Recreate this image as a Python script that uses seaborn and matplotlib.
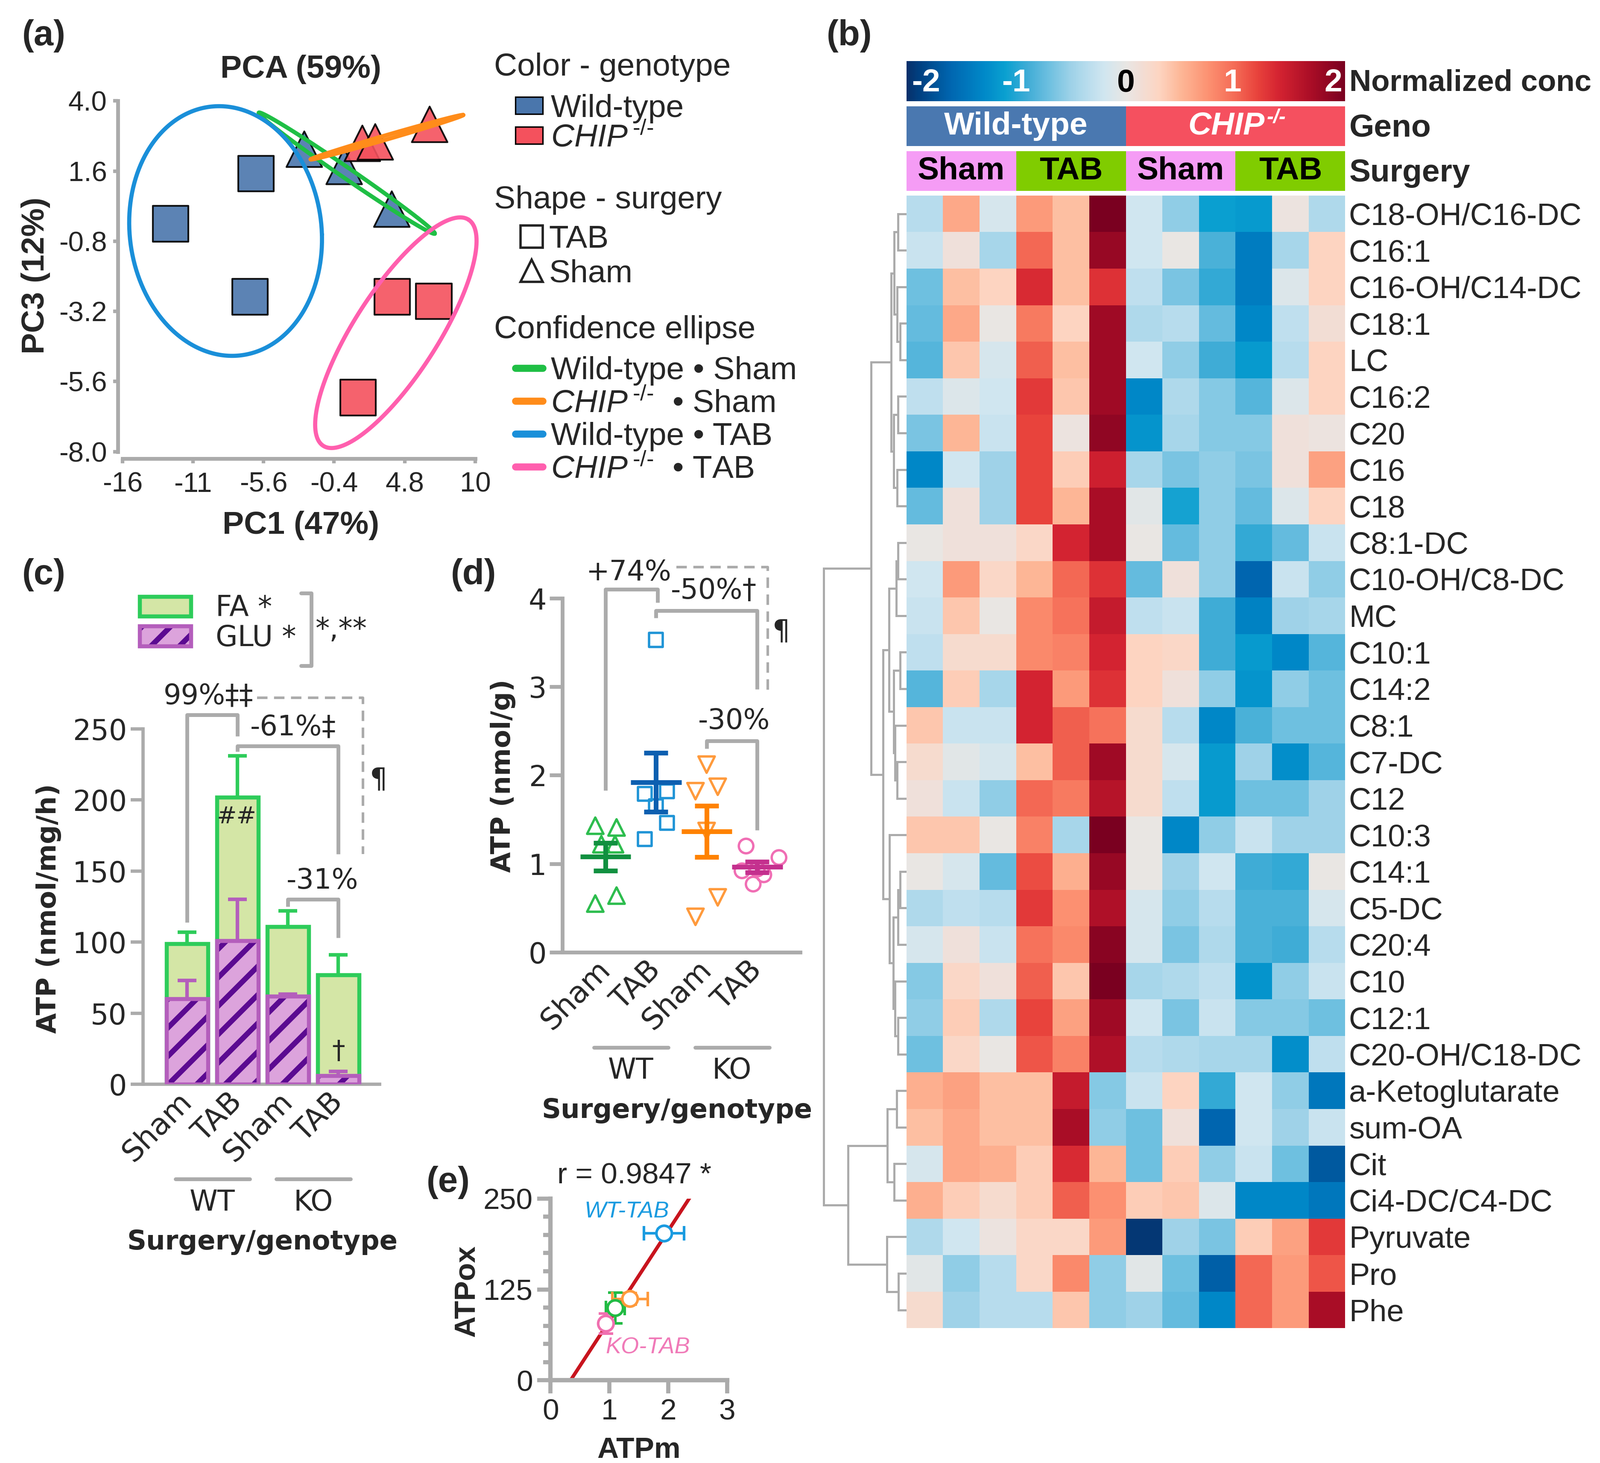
import matplotlib
matplotlib.use("Agg")
import matplotlib.pyplot as plt
import matplotlib.transforms as mtrans
import seaborn as sns
import numpy as np
import pandas as pd
from matplotlib.colors import LinearSegmentedColormap, ListedColormap
from matplotlib.patches import Patch
from matplotlib.lines import Line2D
from matplotlib.legend_handler import HandlerTuple
from matplotlib.ticker import MultipleLocator

# ---------------- (a) PCA scores ----------------
pca_pc1 = [-12.45, -6.15, -6.61, 3.89, 6.95, 1.37, -2.6, 0.34, 3.85, 1.68, 2.63, 6.64]
pca_pc3 = [-0.2, 1.52, -2.7, -2.7, -2.85, -6.15, 2.35, 1.76, 0.3, 2.55, 2.6, 3.2]
pca_geno = ["Wild-type"] * 3 + ["CHIP"] * 3 + ["Wild-type"] * 3 + ["CHIP"] * 3
pca_surgery = ["TAB"] * 6 + ["Sham"] * 6
pc1_ticks = [-16, -10.8, -5.6, -0.4, 4.8, 10]
pc1_labels = ["-16", "-11", "-5.6", "-0.4", "4.8", "10"]
pc3_ticks = [4.0, 1.6, -0.8, -3.2, -5.6, -8.0]

# confidence ellipses: centre + two conjugate semi-diameters (PC units)
ell_groups = ["WT Sham", "CHIP Sham", "WT TAB", "CHIP TAB"]
ell_cx = [0.53, 3.49, -8.4, 4.15]
ell_cy = [1.53, 2.76, -0.45, -3.93]
ell_ux = [6.49, 5.63, 7.1, 5.35]
ell_uy = [-2.07, 0.76, -0.12, 3.87]
ell_vx = [0.22, 0.04, -0.28, 2.6]
ell_vy = [0.15, -0.07, 4.27, -0.77]
ell_colors = ["#1fbf45", "#ff8c1a", "#1a8fd9", "#ff5fae"]

# ---------------- (b) heatmap ----------------
heat_rows = ["C18-OH/C16-DC", "C16:1", "C16-OH/C14-DC", "C18:1", "LC", "C16:2", "C20",
             "C16", "C18", "C8:1-DC", "C10-OH/C8-DC", "MC", "C10:1", "C14:2", "C8:1",
             "C7-DC", "C12", "C10:3", "C14:1", "C5-DC", "C20:4", "C10", "C12:1",
             "C20-OH/C18-DC", "a-Ketoglutarate", "sum-OA", "Cit", "Ci4-DC/C4-DC",
             "Pyruvate", "Pro", "Phe"]
heat_values = [
    [-0.35, 0.6, -0.15, 0.7, 0.45, 2.0, -0.2, -0.55, -1.1, -1.15, 0.05, -0.4],
    [-0.25, 0.1, -0.45, 1.0, 0.45, 1.8, -0.2, 0.0, -0.85, -1.4, -0.45, 0.3],
    [-0.7, 0.45, 0.3, 1.35, 0.45, 1.3, -0.3, -0.65, -0.95, -1.4, -0.1, 0.3],
    [-0.75, 0.6, 0.0, 0.9, 0.3, 1.75, -0.4, -0.35, -0.75, -1.3, -0.3, 0.15],
    [-0.8, 0.4, -0.15, 1.05, 0.45, 1.75, -0.2, -0.55, -0.9, -1.15, -0.35, 0.3],
    [-0.3, -0.1, -0.2, 1.25, 0.4, 1.75, -1.3, -0.4, -0.6, -0.8, -0.1, 0.3],
    [-0.65, 0.5, -0.25, 1.2, 0.05, 1.85, -1.2, -0.45, -0.6, -0.6, 0.1, 0.05],
    [-1.3, -0.2, -0.5, 1.2, 0.35, 1.45, -0.45, -0.65, -0.55, -0.65, 0.1, 0.65],
    [-0.75, 0.1, -0.5, 1.2, 0.5, 1.7, -0.05, -1.05, -0.55, -0.75, -0.1, 0.3],
    [0.0, 0.1, 0.1, 0.25, 1.4, 1.7, 0.0, -0.75, -0.55, -0.95, -0.75, -0.25],
    [-0.2, 0.7, 0.25, 0.5, 1.0, 1.3, -0.75, 0.1, -0.55, -1.6, -0.25, -0.55],
    [-0.25, 0.4, 0.0, 0.8, 0.95, 1.5, -0.3, -0.25, -0.9, -1.35, -0.5, -0.45],
    [-0.3, 0.2, 0.2, 0.8, 0.85, 1.4, 0.3, 0.25, -0.9, -1.15, -1.3, -0.8],
    [-0.8, 0.35, -0.45, 1.4, 0.7, 1.3, 0.3, 0.1, -0.55, -1.2, -0.55, -0.7],
    [0.4, -0.25, -0.25, 1.4, 1.05, 0.95, 0.2, -0.35, -1.3, -0.85, -0.7, -0.7],
    [0.2, -0.05, -0.15, 0.45, 1.05, 1.75, 0.2, -0.15, -1.15, -0.5, -1.25, -0.8],
    [0.1, -0.25, -0.55, 1.0, 0.9, 1.6, 0.2, -0.3, -1.15, -0.7, -0.7, -0.5],
    [0.4, 0.4, 0.0, 0.85, -0.45, 2.0, 0.0, -1.3, -0.55, -0.25, -0.5, -0.5],
    [0.0, -0.15, -0.75, 1.15, 0.55, 1.8, 0.0, -0.5, -0.2, -0.9, -0.95, 0.0],
    [-0.4, -0.3, -0.35, 1.25, 0.75, 1.65, -0.15, -0.55, -0.35, -0.85, -0.85, -0.15],
    [-0.15, 0.1, -0.25, 0.95, 0.8, 1.9, -0.15, -0.65, -0.4, -0.85, -0.9, -0.35],
    [-0.6, 0.25, 0.1, 1.05, 0.4, 2.0, -0.45, -0.4, -0.3, -1.2, -0.55, -0.25],
    [-0.55, 0.35, -0.4, 1.2, 0.65, 1.75, -0.2, -0.65, -0.25, -0.6, -0.6, -0.7],
    [-0.7, 0.25, 0.0, 1.1, 0.85, 1.65, -0.35, -0.4, -0.45, -0.45, -1.25, -0.3],
    [0.55, 0.65, 0.45, 0.45, 1.5, -0.6, -0.25, 0.3, -0.95, -0.2, -0.55, -1.45],
    [0.45, 0.6, 0.45, 0.45, 1.7, -0.55, -0.7, 0.1, -1.6, -0.2, -0.5, -0.25],
    [-0.15, 0.6, 0.55, 0.35, 1.35, 0.5, -0.7, 0.35, -0.55, -0.25, -0.7, -1.7],
    [0.55, 0.35, 0.2, 0.35, 1.05, 0.75, 0.35, 0.4, -0.1, -1.3, -1.3, -1.45],
    [-0.4, -0.2, 0.05, 0.25, 0.25, 0.7, -1.95, -0.5, -0.65, 0.35, 0.65, 1.25],
    [-0.05, -0.55, -0.35, 0.25, 0.8, -0.55, -0.05, -0.7, -1.65, 1.0, 0.7, 1.1],
    [0.2, -0.5, -0.35, -0.35, 0.4, -0.55, -0.5, -0.75, -1.3, 1.0, 0.7, 1.7],
]
col_geno = [0] * 6 + [1] * 6
col_surgery = [0, 0, 0, 1, 1, 1, 0, 0, 0, 1, 1, 1]
surgery_names = ["Sham", "TAB"]

# row dendrogram as merges (child a, child b, height)
link_a = [0, 3, 2, 31, 5, 7, 35, 34, 9, 39, 12, 15, 14, 41, 40, 18, 46, 22, 21, 47, 17, 45, 38,
          24, 26, 54, 29, 28, 56, 53]
link_b = [1, 4, 32, 33, 6, 8, 36, 37, 10, 11, 13, 16, 42, 43, 44, 19, 20, 23, 48, 49, 50, 51, 52,
          25, 27, 55, 30, 57, 58, 59]
link_h = [8, 6, 9, 12, 8, 9, 12.5, 15, 8, 10, 6, 9, 11, 12.5, 17, 6, 8, 8, 11, 13, 16.5, 23, 34.5,
          9.3, 12, 18.5, 7.6, 19, 57, 81]

# ---------------- (c) ATP production ----------------
cond_keys = ["WT Sham", "WT TAB", "KO Sham", "KO TAB"]
cond_labels = ["Sham", "TAB", "Sham", "TAB"]
atp_total = [99, 202, 111, 77]
atp_total_err = [8, 29, 11, 14]
atp_glu = [60, 101, 62, 6]
atp_glu_err = [13, 29, 1.5, 3]

# ---------------- (d) ATP content ----------------
atp_wt_sham = [1.43, 1.41, 1.22, 1.22, 0.55, 0.64]
atp_wt_tab = [3.53, 1.79, 1.82, 1.65, 1.46, 1.28]
atp_ko_sham = [2.12, 1.82, 1.87, 1.37, 0.62, 0.40]
atp_ko_tab = [1.20, 1.07, 0.92, 0.77, 0.875, 0.94]
jit_wt_sham = [-0.2, 0.22, -0.08, 0.19, -0.2, 0.22]
jit_wt_tab = [0.0, -0.22, 0.22, 0.0, 0.22, -0.22]
jit_ko_sham = [0.0, -0.22, 0.22, 0.0, 0.22, -0.22]
jit_ko_tab = [-0.22, 0.43, -0.3, -0.08, 0.13, 0.0]

# ---------------- (e) correlation ----------------
atpm_mean = [1.10, 1.93, 1.35, 0.94]
atpm_sem = [0.16, 0.34, 0.30, 0.05]
atpox_mean = [99.4, 202, 112, 78]
atpox_sem = [21, 6, 8, 14]

GRAY = "#ababab"
FA_FILL, FA_EDGE = "#d4e6a6", "#2ecc5a"
GLU_FILL, GLU_EDGE, GLU_HATCH = "#dca3dc", "#b45ebc", "#5b0a91"
pt_colors = ["#2dbd4e", "#1f94d6", "#ff9a3c", "#f06eb4"]
mean_colors = ["#119040", "#0d5fb0", "#ff8200", "#c4308e"]
e_colors = ["#22bb44", "#1a9be0", "#ff9a3c", "#f070b0"]

sns.set_theme(style="white")
plt.rcParams["font.family"] = ["Liberation Sans", "DejaVu Sans"]
plt.rcParams["mathtext.fontset"] = "custom"
plt.rcParams["mathtext.rm"] = "Liberation Sans"
plt.rcParams["mathtext.it"] = "Liberation Sans:italic"
plt.rcParams["mathtext.bf"] = "Liberation Sans:bold"
plt.rcParams["hatch.linewidth"] = 4.5

# layout grid measured on the reference (1568 x 1433 units)
W, H = 1568, 1433
def fx(x): return x / W
def fy(y): return 1 - y / H
def box(x0, y0, x1, y1):
    return [fx(x0), fy(y1), fx(x1) - fx(x0), fy(y0) - fy(y1)]

def gray_spines(ax, lw):
    sns.despine(ax=ax)
    for side in ("left", "bottom"):
        ax.spines[side].set_color(GRAY)
        ax.spines[side].set_linewidth(lw)

fig = plt.figure(figsize=(18.74, 17.13), dpi=200)

# ======================= (a) =======================
axa = fig.add_axes(box(120, 98.9, 465.6, 442.4))
dfa = pd.DataFrame({"PC1": pca_pc1, "PC3": pca_pc3, "geno": pca_geno, "surgery": pca_surgery})
sns.scatterplot(data=dfa, x="PC1", y="PC3", hue="geno", style="surgery",
                palette={"Wild-type": "#4a76ac", "CHIP": "#f4515d"},
                markers={"TAB": "s", "Sham": "^"}, s=900, edgecolor="black",
                linewidth=1.5, alpha=0.9, legend=False, ax=axa, zorder=3)
t = np.linspace(0, 2 * np.pi, 300)
for cx, cy, ux, uy, vx, vy, col in zip(ell_cx, ell_cy, ell_ux, ell_uy, ell_vx, ell_vy, ell_colors):
    axa.plot(cx + ux * np.cos(t) + vx * np.sin(t), cy + uy * np.cos(t) + vy * np.sin(t),
             color=col, lw=3.5, zorder=4, clip_on=False)
axa.set_xlim(-16, 10)
axa.set_ylim(-8, 4)
axa.set_xticks(pc1_ticks, pc1_labels)
axa.set_yticks(pc3_ticks, [f"{v:.1f}" for v in pc3_ticks])
gray_spines(axa, 3.2)
axa.spines["left"].set_position(("outward", 4))
axa.spines["bottom"].set_position(("outward", 6))
axa.tick_params(axis="both", direction="out", length=4, width=3, color=GRAY,
                labelsize=23.5, pad=5, left=True, bottom=True)
axa.tick_params(axis="x", pad=7)
axa.set_xlabel("PC1 (47%)", fontsize=27, fontweight="bold")
axa.xaxis.label.set_va("center")
axa.xaxis.set_label_coords(0.506, -0.211)
axa.set_ylabel("PC3 (12%)", fontsize=27, fontweight="bold")
axa.yaxis.label.set_va("center")
axa.yaxis.set_label_coords(-0.246, 0.502)
axa.text(0.506, 1.09, "PCA (59%)", transform=axa.transAxes, ha="center", va="center",
         fontsize=27, fontweight="bold")

chip = r"$\mathit{CHIP}^{\,\text{-/-}}$"
fig.text(fx(484), fy(66), "Color - genotype", fontsize=27, va="center")
fig.text(fx(484), fy(196), "Shape - surgery", fontsize=27, va="center")
fig.text(fx(484), fy(323), "Confidence ellipse", fontsize=27, va="center")
common = dict(loc="upper left", frameon=False, fontsize=27, borderpad=0, borderaxespad=0)
fig.legend(handles=[Patch(fc="#4a76ac", ec="black", lw=1.2), Patch(fc="#f4515d", ec="black", lw=1.2)],
           labels=["Wild-type", chip], bbox_to_anchor=(fx(505), fy(92)),
           handlelength=0.85, handleheight=0.45, handletextpad=0.25, labelspacing=0.0, **common)
fig.legend(handles=[Line2D([], [], ls="none", marker="s", mfc="none", mec="#222222", ms=19, mew=2),
                    Line2D([], [], ls="none", marker="^", mfc="none", mec="#222222", ms=19, mew=2)],
           labels=["TAB", "Sham"], bbox_to_anchor=(fx(505), fy(220)),
           handlelength=1.0, handletextpad=0.05, labelspacing=0.15, **common)
fig.legend(handles=[Line2D([], [], color=c, lw=6) for c in ell_colors],
           labels=["Wild-type \u2022 Sham", chip + "  \u2022 Sham", "Wild-type \u2022 TAB", chip + "  \u2022 TAB"],
           bbox_to_anchor=(fx(505), fy(349)), handlelength=0.85, handletextpad=0.25,
           labelspacing=0.1, **common)

# ======================= (b) =======================
heat_anchor_vals = [-2.0, -1.9, -1.6, -1.3, -1.1, -0.9, -0.7, -0.5, -0.35, -0.2, 0.0, 0.1, 0.3,
                    0.5, 0.75, 1.0, 1.2, 1.4, 1.7, 2.0]
heat_anchor_cols = ["#08306b", "#003f7f", "#0066b0", "#0088c8", "#0aa0d0", "#40acd6", "#6ec0e0",
                    "#9ed2e8", "#b8dced", "#d0e6f0", "#e8e6e4", "#efe0da", "#fdd5c2", "#fdb797",
                    "#fc9272", "#f46a55", "#e8433c", "#d42331", "#a90d26", "#7a0020"]
heat_cmap = LinearSegmentedColormap.from_list(
    "heat", [((v + 2) / 4, c) for v, c in zip(heat_anchor_vals, heat_anchor_cols)])

axh = fig.add_axes(box(888, 191.5, 1318, 1301))
dfh = pd.DataFrame(heat_values, index=heat_rows)
sns.heatmap(dfh, ax=axh, cmap=heat_cmap, vmin=-2, vmax=2, cbar=False,
            xticklabels=False, yticklabels=True)
axh.yaxis.tick_right()
axh.tick_params(axis="y", length=0, pad=3, labelsize=26, labelright=True, labelleft=False,
                labelrotation=0)
axh.set_ylabel("")

axdn = fig.add_axes(box(806, 191.5, 888, 1301))
n_rows = len(heat_rows)
node_pos = {i: i + 0.5 for i in range(n_rows)}
node_h = {i: 0.0 for i in range(n_rows)}
for k, (a, b, h) in enumerate(zip(link_a, link_b, link_h)):
    for c in (a, b):
        axdn.plot([node_h[c], h], [node_pos[c], node_pos[c]], color=GRAY, lw=1.8,
                  solid_capstyle="butt")
    axdn.plot([h, h], [node_pos[a], node_pos[b]], color=GRAY, lw=1.8, solid_capstyle="projecting")
    node_pos[n_rows + k] = (node_pos[a] + node_pos[b]) / 2
    node_h[n_rows + k] = h
axdn.set_xlim(82, 0)
axdn.set_ylim(n_rows, 0)
axdn.axis("off")

axcb = fig.add_axes(box(888, 60, 1318, 99))
sm = plt.cm.ScalarMappable(norm=plt.Normalize(-2, 2), cmap=heat_cmap)
cb = fig.colorbar(sm, cax=axcb, orientation="horizontal")
cb.outline.set_visible(False)
axcb.set_xticks([])
tr_cb = axcb.get_xaxis_transform()
for v, lab, col, ha in [(-1.95, "-2", "white", "left"), (-1.0, "-1", "white", "center"),
                        (0.0, "0", "black", "center"), (0.97, "1", "white", "center"),
                        (1.97, "2", "white", "right")]:
    axcb.text(v, 0.45, lab, transform=tr_cb, ha=ha, va="center", color=col,
              fontsize=27, fontweight="bold")
axcb.text(1.0093, 0.45, "Normalized conc", transform=axcb.transAxes, ha="left", va="center",
          fontsize=25.5, fontweight="bold", clip_on=False)

axg = fig.add_axes(box(888, 104, 1318, 143))
sns.heatmap(np.array([col_geno]), ax=axg, cmap=ListedColormap(["#4a78b0", "#f5505f"]),
            vmin=-0.5, vmax=1.5, cbar=False, xticklabels=False, yticklabels=False)
axg.text(3, 0.5, "Wild-type", ha="center", va="center", color="white", fontsize=27,
         fontweight="bold")
chip_t = axg.text(8.75, 0.5, "CHIP", ha="center", va="center", color="white", fontsize=27,
                  fontweight="bold", style="italic")
axg.annotate("-/-", xy=(1.03, 0.78), xycoords=chip_t, ha="left", va="center", color="white",
             fontsize=17, fontweight="bold", style="italic")
axg.text(1.0093, 0.45, "Geno", transform=axg.transAxes, ha="left", va="center",
         fontsize=27, fontweight="bold")

axs = fig.add_axes(box(888, 148, 1318, 187))
sns.heatmap(np.array([col_surgery]), ax=axs, cmap=ListedColormap(["#f59cf5", "#80cc00"]),
            vmin=-0.5, vmax=1.5, cbar=False, xticklabels=False, yticklabels=False)
for xc, code in zip([1.5, 4.5, 7.5, 10.5], [0, 1, 0, 1]):
    axs.text(xc, 0.5, surgery_names[code], ha="center", va="center", color="black",
             fontsize=27, fontweight="bold")
axs.text(1.0093, 0.45, "Surgery", transform=axs.transAxes, ha="left", va="center",
         fontsize=27, fontweight="bold")

# ======================= (c) =======================
DJ = "DejaVu Sans"
axc = fig.add_axes(box(140, 714, 372, 1062))
dfc = pd.DataFrame({"group": cond_keys, "total": atp_total, "glu": atp_glu})
sns.barplot(data=dfc, x="group", y="total", order=cond_keys, color=FA_FILL, saturation=1,
            edgecolor=FA_EDGE, linewidth=3.4, width=0.82, errorbar=None, ax=axc, zorder=2)
sns.barplot(data=dfc, x="group", y="glu", order=cond_keys, color=GLU_FILL, saturation=1,
            edgecolor=GLU_HATCH, linewidth=0.01, hatch="/", width=0.82, errorbar=None,
            ax=axc, zorder=3)
sns.barplot(data=dfc, x="group", y="glu", order=cond_keys, color=GLU_EDGE, saturation=1,
            fill=False, linewidth=3.4, width=0.82, errorbar=None, ax=axc, zorder=3.1)
xpos = np.arange(len(cond_keys))
axc.errorbar(xpos, atp_total, yerr=atp_total_err, fmt="none", ecolor=FA_EDGE, elinewidth=3,
             capsize=8, capthick=3, zorder=1.5)
axc.errorbar(xpos, atp_glu, yerr=atp_glu_err, fmt="none", ecolor=GLU_EDGE, elinewidth=3,
             capsize=8, capthick=3, zorder=2.5)
axc.set_xlim(-0.88, 3.82)
axc.set_ylim(0, 250)
axc.set_yticks([0, 50, 100, 150, 200, 250])
axc.set_xticks(xpos, cond_labels, rotation=45, ha="right", va="center", rotation_mode="anchor")
gray_spines(axc, 2.8)
axc.tick_params(axis="y", direction="out", length=10.5, width=2.8, color=GRAY, labelsize=24,
                pad=3, left=True, labelfontfamily=DJ)
axc.tick_params(axis="x", length=0, labelsize=25, pad=11, labelfontfamily=DJ)
axc.set_ylabel("ATP (nmol/mg/h)", fontsize=22.5, fontweight="bold", family=DJ)
axc.yaxis.label.set_va("center")
axc.yaxis.set_label_coords(-0.397, 0.494)
axc.set_xlabel("Surgery/genotype", fontsize=22.5, fontweight="bold", family=DJ)
axc.xaxis.label.set_va("center")
axc.xaxis.set_label_coords(0.504, -0.445)

def bracket(ax, pts, dashed=False):
    xs, ys = zip(*pts)
    ax.plot(xs, ys, color=GRAY, lw=2.2 if dashed else 3.2, ls=(0, (4, 2.5)) if dashed else "-",
            clip_on=False, solid_capstyle="butt", zorder=5)

def groups_under(ax, y_line, y_text):
    tr = mtrans.blended_transform_factory(ax.transData, ax.transAxes)
    for (i0, i1), lab in zip([(0, 1), (2, 3)], ["WT", "KO"]):
        ax.plot([i0 - 0.23, i1 + 0.24], [y_line, y_line], transform=tr, color=GRAY, lw=3.2,
                clip_on=False, solid_capstyle="round")
        ax.text((i0 + i1) / 2, y_text, lab, transform=tr, ha="center", va="center",
                fontsize=24, family=DJ)

bracket(axc, [(0, 114), (0, 260), (1, 260), (1, 245)])
bracket(axc, [(1, 234), (1, 238), (3, 238), (3, 162)])
bracket(axc, [(2, 125), (2, 130), (3, 130), (3, 103)])
bracket(axc, [(1.39, 272), (3.49, 272), (3.49, 162)], dashed=True)
for xt, yt, s, fs in [(0.42, 273, "99%\u2021\u2021", 23.5), (2.1, 251, "-61%\u2021", 23.5),
                      (2.68, 143, "-31%", 23.5), (3.8, 214, "\u00b6", 23.5),
                      (0.98, 188, "##", 20), (3.0, 23, "\u2020", 22)]:
    axc.text(xt, yt, s, ha="center", va="center", fontsize=fs, family=DJ, clip_on=False, zorder=6)
groups_under(axc, -0.267, -0.333)

fig.legend(handles=[Patch(fc=FA_FILL, ec=FA_EDGE, lw=3.4),
                    (Patch(fc=GLU_FILL, ec=GLU_HATCH, hatch="/", lw=0.01),
                     Patch(fc="none", ec=GLU_EDGE, lw=3.4))],
           labels=["FA *", "GLU *"], handler_map={tuple: HandlerTuple(ndivide=1)},
           loc="upper left", bbox_to_anchor=(fx(137), fy(582)), frameon=False,
           prop={"family": DJ, "size": 24}, handlelength=1.79, handleheight=0.7,
           handletextpad=0.88, labelspacing=0.05, borderpad=0, borderaxespad=0)
fig.add_artist(Line2D([fx(295), fx(305), fx(305), fx(295)], [fy(581), fy(581), fy(652), fy(652)],
                      color=GRAY, lw=3.2))
fig.text(fx(334), fy(617), "*,**", ha="center", va="center", fontsize=24, family=DJ)

# ======================= (d) =======================
axd = fig.add_axes(box(551, 586, 784, 932.7))
d_groups = [atp_wt_sham, atp_wt_tab, atp_ko_sham, atp_ko_tab]
d_jits = [jit_wt_sham, jit_wt_tab, jit_ko_sham, jit_ko_tab]
dfd = pd.DataFrame({
    "group": np.repeat(cond_keys, [len(g) for g in d_groups]),
    "x": np.concatenate([i + np.array(j) for i, j in enumerate(d_jits)]),
    "atp": np.concatenate(d_groups)})
sns.scatterplot(data=dfd, x="x", y="atp", hue="group", style="group", size="group",
                palette=dict(zip(cond_keys, pt_colors)),
                markers=dict(zip(cond_keys, ["^", "s", "v", "o"])),
                sizes=dict(zip(cond_keys, [190, 135, 190, 150])),
                linewidth=2, legend=False, ax=axd, zorder=3)
pts = axd.collections[-1]
pts.set_edgecolors(pts.get_facecolors())
pts.set_facecolors("none")
for i, (vals, c) in enumerate(zip(d_groups, mean_colors)):
    m = np.mean(vals)
    se = np.std(vals, ddof=1) / np.sqrt(len(vals))
    axd.hlines(m, i - 0.5, i + 0.5, color=c, lw=4, zorder=4)
    axd.errorbar(i, m, yerr=se, fmt="none", ecolor=c, elinewidth=4, capsize=10, capthick=4,
                 zorder=4)
axd.set_xlim(-0.85, 3.85)
axd.set_ylim(0, 4)
axd.set_yticks([0, 1, 2, 3, 4])
axd.set_xticks(xpos, cond_labels, rotation=45, ha="right", va="center", rotation_mode="anchor")
gray_spines(axd, 3.2)
axd.tick_params(axis="y", direction="out", length=10.8, width=3.2, color=GRAY, labelsize=24,
                pad=2.5, left=True, labelfontfamily=DJ)
axd.tick_params(axis="x", length=0, labelsize=25, pad=11, labelfontfamily=DJ)
axd.set_ylabel("ATP (nmol/g)", fontsize=22.5, fontweight="bold", family=DJ)
axd.yaxis.label.set_va("center")
axd.yaxis.set_label_coords(-0.249, 0.498)
axd.set_xlabel("Surgery/genotype", fontsize=22.5, fontweight="bold", family=DJ)
axd.xaxis.label.set_va("center")
axd.xaxis.set_label_coords(0.482, -0.448)
bracket(axd, [(0, 1.83), (0, 4.1), (1.03, 4.1), (1.03, 3.95)])
bracket(axd, [(1.0, 3.78), (1.0, 3.86), (3.0, 3.86), (3.0, 2.97)])
bracket(axd, [(2.0, 2.3), (2.0, 2.39), (3.0, 2.39), (3.0, 1.38)])
bracket(axd, [(1.4, 4.35), (3.21, 4.35), (3.21, 2.96)], dashed=True)
for xt, yt, s in [(0.46, 4.29, "+74%"), (2.14, 4.08, "-50%\u2020"), (3.48, 3.62, "\u00b6"),
                  (2.54, 2.61, "-30%")]:
    axd.text(xt, yt, s, ha="center", va="center", fontsize=23.5, family=DJ, clip_on=False)
groups_under(axd, -0.269, -0.334)

# ======================= (e) =======================
axe = fig.add_axes(box(539.4, 1174, 712.4, 1352))
axe.set_xlim(0, 3)
axe.set_ylim(0, 250)
sns.regplot(x=np.array(atpm_mean), y=np.array(atpox_mean), ci=None, truncate=False,
            scatter=False, ax=axe, line_kws=dict(color="#c8141e", lw=3, zorder=2))
for xm, xe, ym, ye, c in zip(atpm_mean, atpm_sem, atpox_mean, atpox_sem, e_colors):
    axe.errorbar(xm, ym, xerr=xe, yerr=ye, fmt="none", ecolor=c, elinewidth=2.2, capsize=6,
                 capthick=2.2, zorder=3)
dfe = pd.DataFrame({"ATPm": atpm_mean, "ATPox": atpox_mean, "group": cond_keys})
sns.scatterplot(data=dfe, x="ATPm", y="ATPox", hue="group", palette=dict(zip(cond_keys, e_colors)),
                s=170, linewidth=2.2, legend=False, ax=axe, zorder=4)
pe = axe.collections[-1]
pe.set_edgecolors(pe.get_facecolors())
pe.set_facecolors("white")
axe.set_xlim(0, 3)
axe.set_ylim(0, 250)
axe.set_xticks([0, 1, 2, 3])
axe.set_yticks([0, 125, 250])
axe.yaxis.set_minor_locator(MultipleLocator(25))
gray_spines(axe, 3.7)
axe.tick_params(which="major", direction="out", length=11, width=3.5, color=GRAY,
                labelsize=25, pad=4, left=True, bottom=True)
axe.tick_params(axis="y", which="minor", direction="out", length=6, width=3.5, color=GRAY,
                left=True)
axe.set_xlabel("ATPm", fontsize=25, fontweight="bold")
axe.xaxis.label.set_va("center")
axe.xaxis.set_label_coords(0.5, -0.385)
axe.set_ylabel("ATPox", fontsize=25, fontweight="bold")
axe.yaxis.label.set_va("center")
axe.yaxis.set_label_coords(-0.476, 0.49)
axe.text(0.475, 1.126, "r = 0.9847 *", transform=axe.transAxes, ha="center", va="center",
         fontsize=25)
axe.text(1.29, 232, "WT-TAB", ha="center", va="center", fontsize=19.5, style="italic",
         color="#1a9be0")
axe.text(1.65, 45, "KO-TAB", ha="center", va="center", fontsize=19.5, style="italic",
         color="#f07ab8")

# panel letters
for x, y, s in [(43, 35, "(a)"), (832, 35, "(b)"), (43, 563, "(c)"), (464, 563, "(d)"),
                (439, 1158, "(e)")]:
    fig.text(fx(x), fy(y), s, ha="center", va="center", fontsize=30, fontweight="bold")

fig.savefig("out.png", dpi=200)
